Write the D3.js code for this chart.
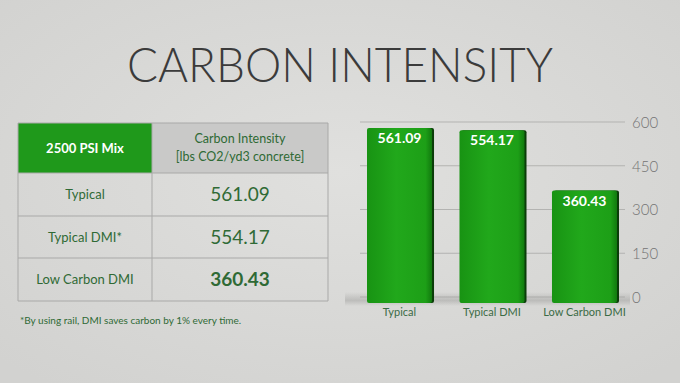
<!DOCTYPE html>
<html>
<head>
<meta charset="utf-8">
<script src="https://cdn.jsdelivr.net/npm/d3@7"></script>
<style>
  body { margin: 0; background: #d9d9d7; }
  svg { display: block; }
</style>
</head>
<body>
<div class="content"></div>
<script>
const W = 680, H = 383;

// data
const categories = ["Typical", "Typical DMI", "Low Carbon DMI"];
const rowLabels = ["Typical", "Typical DMI*", "Low Carbon DMI"];
const values = [561.09, 554.17, 360.43];
const yTicks = [0, 150, 300, 450, 600];
const headerLabels = ["2500 PSI Mix", "Carbon Intensity", "[lbs CO2/yd3 concrete]"];
const footnote = "*By using rail, DMI saves carbon by 1% every time.";
const title = "CARBON INTENSITY";

const GREEN_TXT = "#2f6a35";
const FONT = "Lato, 'Open Sans', sans-serif";

const svg = d3.select(".content").append("svg").attr("width", W).attr("height", H);
const defs = svg.append("defs");

// background
const bg = defs.append("radialGradient").attr("id", "bg").attr("cx", "50%").attr("cy", "45%").attr("r", "70%");
bg.append("stop").attr("offset", "0%").attr("stop-color", "#e0e0de");
bg.append("stop").attr("offset", "100%").attr("stop-color", "#d2d2d0");
svg.append("rect").attr("width", W).attr("height", H).attr("fill", "url(#bg)");

// title
svg.append("text")
  .attr("x", 340).attr("y", 82)
  .attr("text-anchor", "middle")
  .attr("textLength", 426).attr("lengthAdjust", "spacingAndGlyphs")
  .style("font-family", FONT).style("font-weight", 300).style("font-size", "48px")
  .style("fill", "#3b3b3b")
  .text(title);

// ---------- table ----------
const tx0 = 18, tx1 = 152, tx2 = 328;
const rowEdges = [123, 173, 216, 258, 301];
const table = svg.append("g").attr("id", "table");

table.append("rect").attr("x", tx0).attr("y", rowEdges[0]).attr("width", tx1 - tx0).attr("height", rowEdges[1] - rowEdges[0]).attr("fill", "#1f991b");
table.append("rect").attr("x", tx1).attr("y", rowEdges[0]).attr("width", tx2 - tx1).attr("height", rowEdges[1] - rowEdges[0]).attr("fill", "#c9c9c8");

// grid lines of the table
table.selectAll("line.h").data(rowEdges).join("line").attr("class", "h")
  .attr("x1", tx0).attr("x2", tx2).attr("y1", d => d).attr("y2", d => d)
  .attr("stroke", "#a9a9a8").attr("stroke-width", 1);
table.selectAll("line.v").data([tx0, tx1, tx2]).join("line").attr("class", "v")
  .attr("x1", d => d).attr("x2", d => d).attr("y1", rowEdges[0]).attr("y2", rowEdges[4])
  .attr("stroke", "#a9a9a8").attr("stroke-width", 1);

const c1 = (tx0 + tx1) / 2, c2 = (tx1 + tx2) / 2;
table.append("text").attr("x", c1).attr("y", (rowEdges[0] + rowEdges[1]) / 2 + 5)
  .attr("text-anchor", "middle").style("font-family", FONT).style("font-weight", 700)
  .style("font-size", "13px").style("fill", "#fff").text(headerLabels[0]);
table.append("text").attr("x", c2).attr("y", 143)
  .attr("text-anchor", "middle").style("font-family", FONT)
  .style("font-size", "12.5px").style("fill", GREEN_TXT).text(headerLabels[1]);
table.append("text").attr("x", c2).attr("y", 161)
  .attr("text-anchor", "middle").style("font-family", FONT)
  .style("font-size", "12.5px").style("fill", GREEN_TXT).text(headerLabels[2]);

const rows = table.selectAll("g.row").data(values).join("g").attr("class", "row");
rows.append("text")
  .attr("x", c1).attr("y", (d, i) => (rowEdges[i + 1] + rowEdges[i + 2]) / 2 + 4.5)
  .attr("text-anchor", "middle").style("font-family", FONT).style("font-size", "13px")
  .style("fill", GREEN_TXT).text((d, i) => rowLabels[i]);
rows.append("text")
  .attr("x", c2).attr("y", (d, i) => (rowEdges[i + 1] + rowEdges[i + 2]) / 2 + 6.5)
  .attr("text-anchor", "middle").style("font-family", FONT).style("font-size", "19px")
  .style("font-weight", (d, i) => i === values.length - 1 ? 700 : 400)
  .style("fill", GREEN_TXT).text(d => d3.format(".2f")(d));

svg.append("text").attr("x", 20).attr("y", 324)
  .style("font-family", FONT).style("font-size", "10px").style("fill", GREEN_TXT)
  .text(footnote);

// ---------- bar chart ----------
// back wall (gridlines) and front face of the bars use slightly different scales (3D look)
const yGrid = d3.scaleLinear().domain([0, 600]).range([297, 122]);
const yBar = d3.scaleLinear().domain([0, 600]).range([303, 303 - 187.1]);
const x = d3.scaleBand().domain(categories).range([367, 617]).paddingInner(0.297).paddingOuter(0);

const chart = svg.append("g").attr("id", "chart");

const axis = d3.axisRight(yGrid).tickValues(yTicks).tickSize(0).tickPadding(0);
const axisG = chart.append("g").attr("transform", "translate(632,0)").call(axis);
axisG.select(".domain").remove();
axisG.selectAll("text")
  .style("font-family", FONT).style("font-weight", 300).style("font-size", "15px")
  .style("fill", "#747474").attr("dy", "0.35em");

chart.append("g").selectAll("line").data(yTicks).join("line")
  .attr("x1", 360).attr("x2", 625)
  .attr("y1", d => yGrid(d)).attr("y2", d => yGrid(d))
  .attr("stroke", "#b3b3b1").attr("stroke-width", 1);

// floor shadow
const sh = defs.append("linearGradient").attr("id", "shadow").attr("x1", 0).attr("x2", 0).attr("y1", 0).attr("y2", 1);
sh.append("stop").attr("offset", "0%").attr("stop-color", "#9a9a98").attr("stop-opacity", 0);
sh.append("stop").attr("offset", "60%").attr("stop-color", "#9a9a98").attr("stop-opacity", 0.45);
sh.append("stop").attr("offset", "100%").attr("stop-color", "#9a9a98").attr("stop-opacity", 0);
chart.append("rect").attr("x", 345).attr("y", 292).attr("width", 285).attr("height", 14).attr("fill", "url(#shadow)");

const bgGrad = defs.append("linearGradient").attr("id", "barg").attr("x1", 0).attr("x2", 1).attr("y1", 0).attr("y2", 0);
bgGrad.append("stop").attr("offset", "0%").attr("stop-color", "#189313");
bgGrad.append("stop").attr("offset", "45%").attr("stop-color", "#21a81b");
bgGrad.append("stop").attr("offset", "90%").attr("stop-color", "#1d9f17");
bgGrad.append("stop").attr("offset", "100%").attr("stop-color", "#117a0e");

const bars = chart.selectAll("g.bar").data(values).join("g").attr("class", "bar");
// dark side face
bars.append("rect")
  .attr("x", (d, i) => x(categories[i]) + 2).attr("y", d => yBar(d))
  .attr("width", x.bandwidth()).attr("height", d => yBar(0) - yBar(d))
  .attr("rx", 2).attr("fill", "#0b3d09");
bars.append("rect")
  .attr("x", (d, i) => x(categories[i])).attr("y", d => yBar(d))
  .attr("width", x.bandwidth()).attr("height", d => yBar(0) - yBar(d))
  .attr("rx", 2).attr("fill", "url(#barg)");
bars.append("text")
  .attr("x", (d, i) => x(categories[i]) + x.bandwidth() / 2)
  .attr("y", d => yBar(d) + 15)
  .attr("text-anchor", "middle").style("font-family", FONT).style("font-weight", 700)
  .style("font-size", "14px").style("fill", "#fff").text(d => d3.format(".2f")(d));

chart.selectAll("text.cat").data(categories).join("text").attr("class", "cat")
  .attr("x", d => x(d) + x.bandwidth() / 2).attr("y", 316)
  .attr("text-anchor", "middle").style("font-family", FONT).style("font-size", "11px")
  .style("fill", "#3b6b45").text(d => d);
</script>
</body>
</html>
